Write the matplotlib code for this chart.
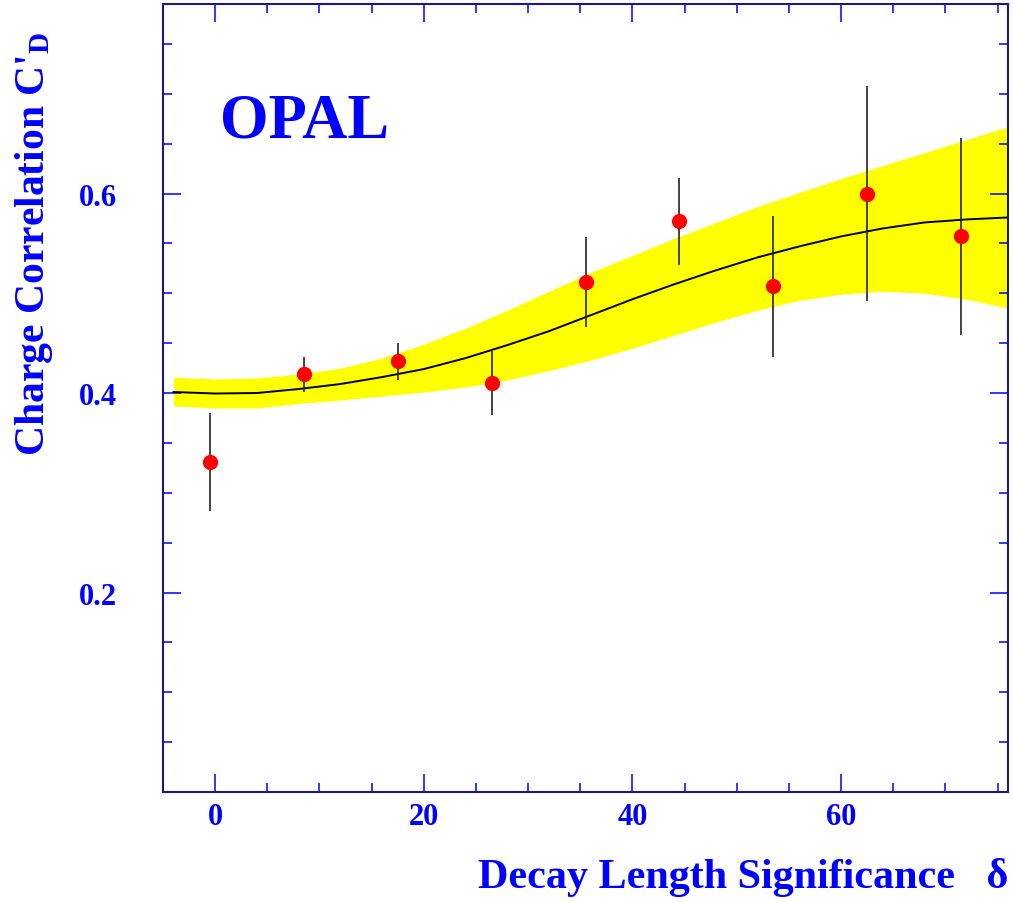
import numpy as np
import matplotlib
matplotlib.use("Agg")
import matplotlib.pyplot as plt
from matplotlib.ticker import MultipleLocator

# ============ DATA ============
# measured points (decay length significance bins)
delta = [-0.5, 8.5, 17.5, 26.5, 35.5, 44.5, 53.5, 62.5, 71.5]
cd = [0.331, 0.419, 0.432, 0.410, 0.511, 0.572, 0.507, 0.600, 0.557]
cd_err = [0.049, 0.0175, 0.0185, 0.0325, 0.045, 0.044, 0.0705, 0.108, 0.0985]

# fit curve and its uncertainty band
fit_x = [-4, 0, 4, 8, 12, 16, 20, 24, 28, 32, 36, 40, 44, 48, 52, 56, 60, 64, 68, 72, 76]
fit_y = [0.401, 0.3995, 0.400, 0.404, 0.409, 0.416, 0.424, 0.435, 0.448, 0.462, 0.478,
         0.494, 0.509, 0.523, 0.536, 0.547, 0.557, 0.565, 0.571, 0.574, 0.576]
band_hi = [0.416, 0.414, 0.415, 0.419, 0.425, 0.435, 0.449, 0.465, 0.483, 0.502, 0.521,
           0.538, 0.555, 0.571, 0.587, 0.601, 0.615, 0.628, 0.641, 0.654, 0.667]
band_lo = [0.387, 0.385, 0.385, 0.3895, 0.393, 0.397, 0.401, 0.406, 0.413, 0.4225, 0.433,
           0.445, 0.458, 0.471, 0.483, 0.493, 0.499, 0.502, 0.500, 0.494, 0.485]

x_ticks = [0, 20, 40, 60]
y_ticks = [0.2, 0.4, 0.6]

# ============ STYLE ============
BLUE = "#0000ff"
FRAME = "#1a1a80"
plt.rcParams["font.family"] = ["Liberation Serif", "DejaVu Serif"]
plt.rcParams["font.weight"] = "bold"
plt.rcParams["mathtext.fontset"] = "custom"
plt.rcParams["mathtext.rm"] = "Liberation Serif:bold"
plt.rcParams["mathtext.it"] = "Liberation Serif:bold"
plt.rcParams["mathtext.bf"] = "Liberation Serif:bold"

fig = plt.figure(figsize=(10.13, 9.03), dpi=100)
ax = fig.add_axes([163 / 1013, 110 / 903, 845 / 1013, 788 / 903])

ax.fill_between(fit_x, band_lo, band_hi, color="#ffff00", lw=0, zorder=1)
ax.plot(fit_x, fit_y, color="black", lw=1.4, zorder=2)
ax.errorbar(delta, cd, yerr=cd_err, fmt="none", ecolor="#222222", elinewidth=1.2,
            capsize=0, zorder=3)
ax.plot(delta, cd, "o", color="#ff0000", markersize=11, markeredgewidth=0, zorder=4)

ax.set_xlim(-5, 76)
ax.set_ylim(0, 0.79)

ax.xaxis.set_major_locator(MultipleLocator(20))
ax.xaxis.set_minor_locator(MultipleLocator(5))
ax.yaxis.set_major_locator(MultipleLocator(0.2))
ax.yaxis.set_minor_locator(MultipleLocator(0.05))
ax.set_xticks(x_ticks)
ax.set_yticks(y_ticks)
ax.set_xticklabels([str(t) for t in x_ticks])
ax.set_yticklabels([f"{t:.1f}" for t in y_ticks])

ax.tick_params(which="both", direction="in", top=True, right=True, color=BLUE,
               width=1.1, labelcolor=BLUE, labelsize=22)
ax.tick_params(which="major", length=13)
ax.tick_params(which="minor", length=6.5)
ax.tick_params(axis="x", pad=7)
ax.tick_params(axis="y", pad=33)
for lab in ax.get_xticklabels() + ax.get_yticklabels():
    lab.set_fontweight("bold")

for sp in ax.spines.values():
    sp.set_color(FRAME)
    sp.set_linewidth(1.5)

ax.text((220 - 163) / 845, (793 - 137) / 788, "OPAL", transform=ax.transAxes,
        fontsize=45, fontweight="bold", color=BLUE, ha="left", va="baseline")

fig.text(1008 / 1013, (903 - 888) / 903, "Decay Length Significance   δ",
         fontsize=30.3, fontweight="bold", color=BLUE, ha="right", va="baseline")
fig.text(34 / 1013, 1 - 32 / 903, r"Charge Correlation C$'_{\mathrm{D}}$",
         fontsize=30, fontweight="bold", color=BLUE, rotation=90,
         ha="center", va="top")

fig.savefig("out.png", dpi=100)
